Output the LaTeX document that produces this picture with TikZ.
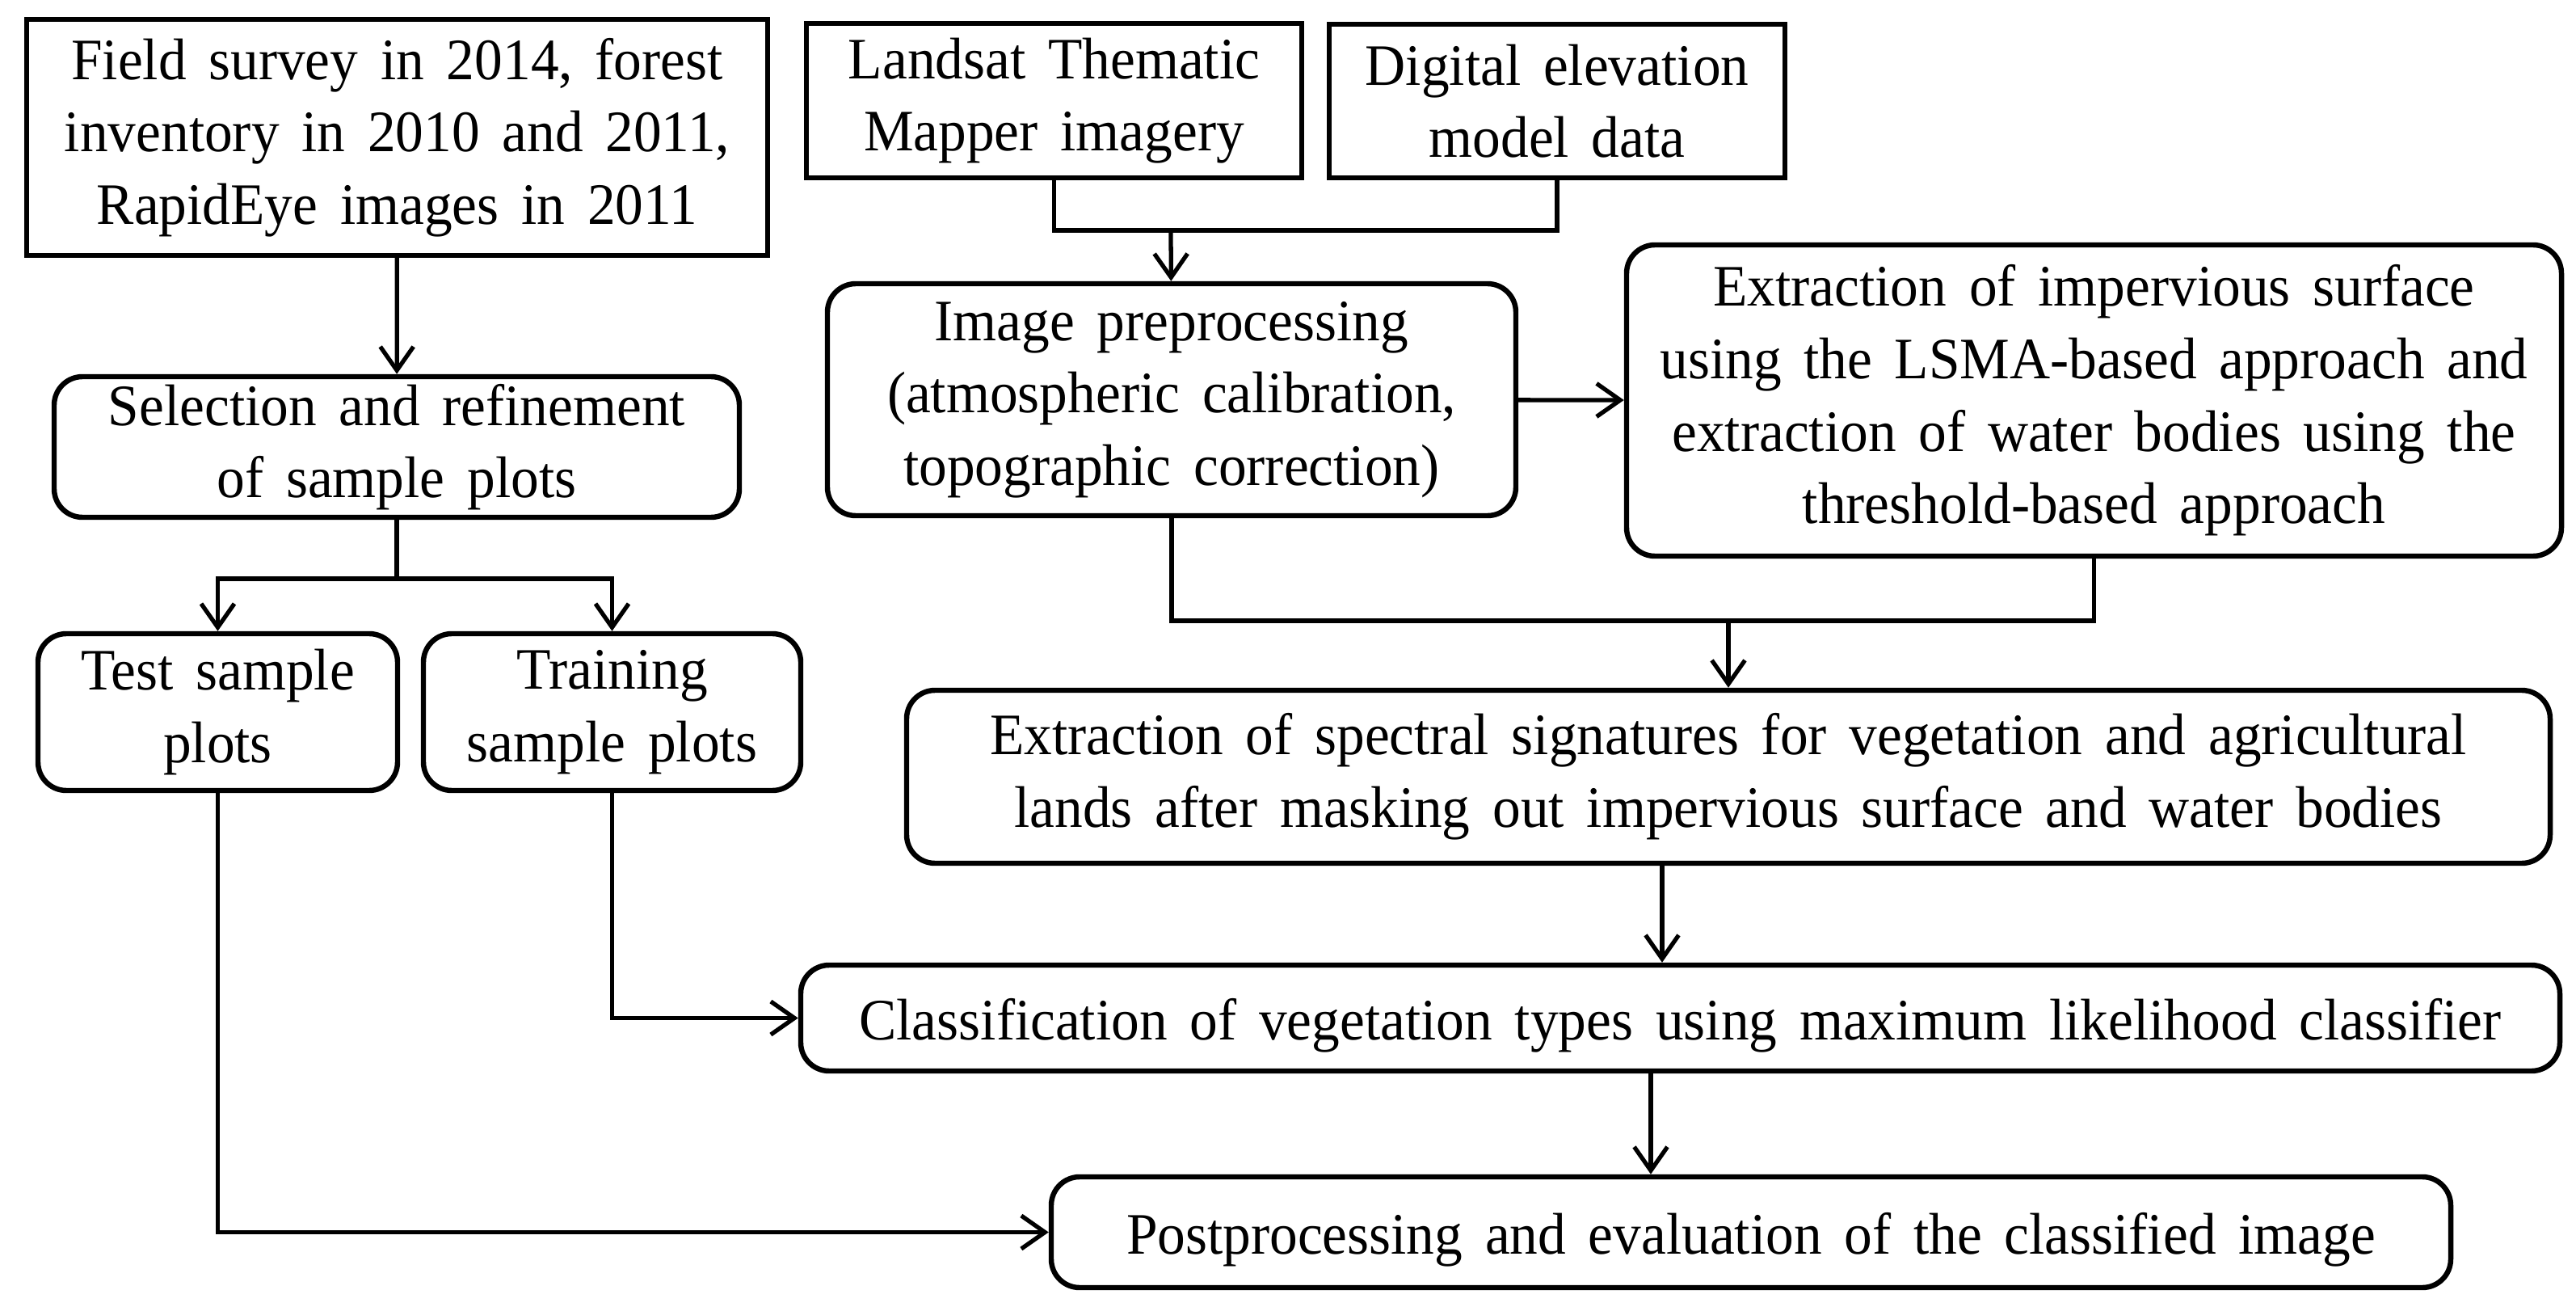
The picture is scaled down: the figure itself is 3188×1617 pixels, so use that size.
\documentclass[tikz,border=0pt]{standalone}
\usepackage{fontspec}
\setmainfont{Liberation Serif}[FakeStretch=0.955, WordSpace=1.6]
\usetikzlibrary{arrows.meta}

\tikzset{
  box/.style={draw, line width=1.1pt, align=center, inner sep=0pt,
    font=\fontsize{12.4}{15.3}\selectfont\rule{0pt}{12pt}},
  rbox/.style={box, rounded corners=6pt},
  dims/.style 2 args={minimum width=#1*0.06mm, minimum height=#2*0.06mm},
  line/.style={line width=0.9pt},
  arr/.style={line, -{Straight Barb[length=5pt,width=7pt]}}
}

\begin{document}
\begin{tikzpicture}[x=0.06mm, y=-0.06mm]
  \useasboundingbox (0,0) rectangle (3188,1617);

  % input data
  \node[box, dims={917}{292}] (field) at (491.5,170)
    {Field survey in 2014, forest\\ inventory in 2010 and 2011,\\ RapidEye images in 2011};
  \node[box, dims={613}{191}] (landsat) at (1304.5,124.5)
    {Landsat Thematic\\ Mapper imagery};
  \node[box, dims={564}{190}] (dem) at (1927,125)
    {Digital elevation\\ model data};

  % processing steps
  \node[rbox, dims={848}{174}] (select) at (491,553)
    {Selection and refinement\\ of sample plots};
  \node[rbox, dims={852}{287}] (prep) at (1450,494.5)
    {Image preprocessing\\ (atmospheric calibration,\\ topographic correction)};
  \node[rbox, dims={1157}{385}] (extract) at (2591.5,495.5)
    {Extraction of impervious surface\\ using the LSMA-based approach and\\ extraction of water bodies using the\\ threshold-based approach};
  \node[rbox, dims={445}{194}] (test) at (269.5,881)
    {Test sample\\ plots};
  \node[rbox, dims={467}{194}] (train) at (757.5,881)
    {Training\\ sample plots};
  \node[rbox, dims={2034}{214}] (spectral) at (2139,961)
    {Extraction of spectral signatures for vegetation and agricultural\\ lands after masking out impervious surface and water bodies};
  \node[rbox, dims={2177}{131}] (classify) at (2079.5,1259.5)
    {Classification of vegetation types using maximum likelihood classifier};
  \node[rbox, dims={1732}{137}] (post) at (2167,1524.5)
    {Postprocessing and evaluation of the classified image};

  % joints
  \coordinate (merge) at (1449,285);
  \coordinate (split) at (491,716);
  \coordinate (join) at (2139,768);
  \coordinate (specout) at (2057,1068);
  \coordinate (classout) at (2043,1325);

  % connectors
  \draw[arr] (field) -- (select);
  \draw[line] (landsat.south) |- (merge) -| (dem.south);
  \draw[arr] (merge) -- (prep);
  \draw[arr] (prep) -- (extract);
  \draw[line] (prep.south) |- (join) -| (extract.south);
  \draw[arr] (join) -- (spectral);
  \draw[line] (select) -- (split);
  \draw[arr] (split) -| (test.north);
  \draw[arr] (split) -| (train.north);
  \draw[arr] (train.south) |- (classify.west);
  \draw[arr] (test.south) |- (post.west);
  \draw[arr] (specout) -- (specout |- classify.north);
  \draw[arr] (classout) -- (classout |- post.north);
\end{tikzpicture}
\end{document}
